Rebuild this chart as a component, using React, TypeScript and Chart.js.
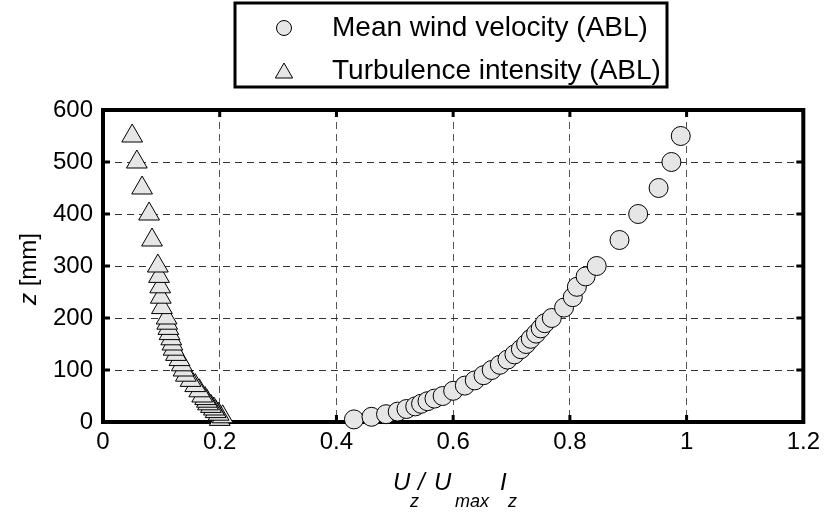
import React, { useEffect, useRef } from "react";
import { Chart, registerables } from "chart.js";

Chart.register(...registerables);

// ---- data ----
const heightsMm = [5, 10, 15, 20, 25, 30, 35, 40, 45, 50, 60, 70, 80, 90, 100, 110, 120, 130, 140, 150, 160, 170, 180, 190, 200, 220, 240, 260, 280, 300, 350, 400, 450, 500, 550];
const meanWindRatio = [0.43, 0.46, 0.485, 0.505, 0.52, 0.535, 0.545, 0.556, 0.568, 0.582, 0.6, 0.62, 0.637, 0.652, 0.666, 0.68, 0.693, 0.705, 0.716, 0.725, 0.733, 0.742, 0.75, 0.757, 0.769, 0.79, 0.805, 0.812, 0.827, 0.846, 0.885, 0.917, 0.952, 0.974, 0.99];
const turbIntensity = [0.2, 0.205, 0.198, 0.193, 0.19, 0.185, 0.18, 0.178, 0.175, 0.17, 0.165, 0.158, 0.15, 0.142, 0.138, 0.135, 0.131, 0.125, 0.121, 0.119, 0.117, 0.114, 0.112, 0.11, 0.109, 0.101, 0.099, 0.098, 0.096, 0.094, 0.084, 0.079, 0.067, 0.058, 0.05];
const xTicks = [0, 0.2, 0.4, 0.6, 0.8, 1, 1.2];
const yTicks = [0, 100, 200, 300, 400, 500, 600];
const seriesLabels = ["Mean wind velocity (ABL)", "Turbulence intensity (ABL)"];

const FONT = '"Liberation Sans", Arial, sans-serif';
const FILL = "#e6e6e6";

const decorPlugin = {
  id: "decor",
  beforeDatasetsDraw(chart: any) {
    const { ctx, chartArea, scales } = chart;
    const { left, right, top, bottom } = chartArea;
    ctx.save();
    ctx.strokeStyle = "#000";
    ctx.lineWidth = 4;
    ctx.strokeRect(left, top, right - left, bottom - top);
    ctx.lineWidth = 3;
    ctx.beginPath();
    xTicks.forEach((v) => {
      const px = scales.x.getPixelForValue(v);
      ctx.moveTo(px, bottom);
      ctx.lineTo(px, bottom - 7);
      ctx.moveTo(px, top);
      ctx.lineTo(px, top + 7);
    });
    yTicks.forEach((v) => {
      const py = scales.y.getPixelForValue(v);
      ctx.moveTo(left, py);
      ctx.lineTo(left + 7, py);
      ctx.moveTo(right, py);
      ctx.lineTo(right - 7, py);
    });
    ctx.stroke();
    ctx.restore();
  },
  afterDraw(chart: any) {
    const { ctx } = chart;
    ctx.save();
    // legend
    ctx.strokeStyle = "#000";
    ctx.lineWidth = 3;
    ctx.strokeRect(235, 3, 432, 84);
    ctx.lineWidth = 1;
    ctx.fillStyle = FILL;
    ctx.beginPath();
    ctx.arc(284, 28, 7.5, 0, Math.PI * 2);
    ctx.fill();
    ctx.stroke();
    const tr = 10;
    const tx = 284, ty = 73;
    ctx.beginPath();
    for (let i = 0; i < 3; i++) {
      const a = (i * 2 * Math.PI) / 3;
      const px = tx + Math.sin(a) * tr;
      const py = ty - Math.cos(a) * tr;
      if (i === 0) ctx.moveTo(px, py);
      else ctx.lineTo(px, py);
    }
    ctx.closePath();
    ctx.fill();
    ctx.stroke();
    ctx.fillStyle = "#000";
    ctx.font = `28px ${FONT}`;
    ctx.textBaseline = "middle";
    ctx.textAlign = "left";
    ctx.fillText(chart.data.datasets[0].label, 332, 28);
    ctx.fillText(chart.data.datasets[1].label, 332, 71);

    // x title
    ctx.textBaseline = "alphabetic";
    ctx.font = `italic 24px ${FONT}`;
    ctx.fillText("U", 393, 490);
    ctx.fillText("/", 418, 490);
    ctx.fillText("U", 434, 490);
    ctx.fillText("I", 500, 490);
    ctx.font = `italic 18px ${FONT}`;
    ctx.fillText("z", 410, 507);
    ctx.fillText("max", 455, 507);
    ctx.fillText("z", 508, 507);

    // y title
    ctx.translate(36, 305);
    ctx.rotate(-Math.PI / 2);
    ctx.font = `italic 24px ${FONT}`;
    ctx.fillText("z", 0, 0);
    const wz = ctx.measureText("z").width;
    ctx.font = `24px ${FONT}`;
    ctx.fillText(" [mm]", wz, 0);
    ctx.restore();
  },
};

export default function App() {
  const ref = useRef<HTMLCanvasElement | null>(null);
  useEffect(() => {
    document.body.style.margin = "0";
    if (!ref.current) return;
    const windPts = heightsMm.map((z, i) => ({ x: meanWindRatio[i], y: z }));
    const turbPts = heightsMm.map((z, i) => ({ x: turbIntensity[i], y: z }));
    const chart = new Chart(ref.current, {
      type: "scatter",
      data: {
        datasets: [
          {
            label: seriesLabels[0],
            data: windPts,
            pointStyle: "circle",
            pointRadius: 9.5,
            backgroundColor: FILL,
            borderColor: "#000",
            borderWidth: 1,
            clip: false,
          },
          {
            label: seriesLabels[1],
            data: turbPts,
            pointStyle: "triangle",
            pointRadius: 12,
            backgroundColor: FILL,
            borderColor: "#000",
            borderWidth: 1,
            clip: false,
          },
        ],
      },
      options: {
        responsive: false,
        animation: false,
        devicePixelRatio: 1,
        layout: { padding: { top: 110, right: 21, left: 0, bottom: 0 } },
        plugins: { legend: { display: false }, tooltip: { enabled: false } },
        scales: {
          x: {
            type: "linear",
            min: 0,
            max: 1.2,
            afterBuildTicks: (s: any) => {
              s.ticks = xTicks.map((v) => ({ value: v }));
            },
            afterFit: (s: any) => {
              s.height = 91;
            },
            ticks: {
              color: "#000",
              font: { family: FONT, size: 24 },
              padding: 6,
              maxRotation: 0,
              callback: (v: any) => String(Number(Number(v).toFixed(1))),
            },
            grid: { color: "#555", lineWidth: 1, drawTicks: false },
            border: { display: false, dash: [7, 5] },
          },
          y: {
            type: "linear",
            min: 0,
            max: 600,
            afterBuildTicks: (s: any) => {
              s.ticks = yTicks.map((v) => ({ value: v }));
            },
            afterFit: (s: any) => {
              s.width = 103;
            },
            ticks: {
              color: "#000",
              font: { family: FONT, size: 24 },
              padding: 10,
              callback: (v: any) => String(v),
            },
            grid: { color: "#333", lineWidth: 1, drawTicks: false },
            border: { display: false, dash: [7, 5] },
          },
        },
      },
      plugins: [decorPlugin],
    });
    return () => chart.destroy();
  }, []);
  return (
    <div style={{ position: "fixed", left: 0, top: 0, width: 826, height: 513, background: "#fff" }}>
      <canvas ref={ref} width={826} height={513} />
    </div>
  );
}
